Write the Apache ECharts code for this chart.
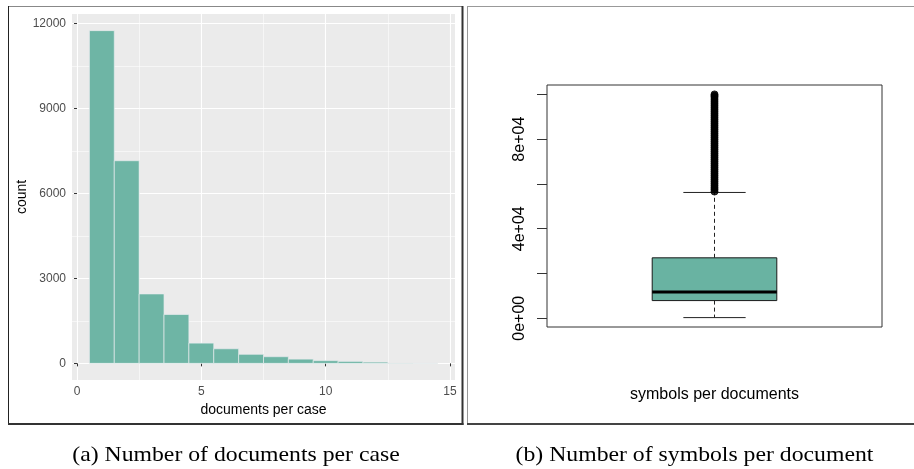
<!DOCTYPE html>
<html>
<head>
<meta charset="utf-8">
<script src="https://cdn.jsdelivr.net/npm/echarts@6/dist/echarts.min.js"></script>
<style>
  html, body { margin: 0; padding: 0; background: #fff; }
  #chart { width: 914px; height: 469px; }
</style>
</head>
<body>
<div id="chart"></div>
<script>
// ---------- Data: (a) histogram ----------
const binCenters = [1, 2, 3, 4, 5, 6, 7, 8, 9, 10, 11, 12, 13, 14];
const binCounts  = [11740, 7150, 2450, 1725, 715, 515, 320, 235, 150, 95, 70, 45, 12, 6];
const histXTicks = [0, 5, 10, 15];
const histXMinor = [2.5, 7.5, 12.5];
const histYTicks = [0, 3000, 6000, 9000, 12000];
const histYMinor = [1500, 4500, 7500, 10500];

// ---------- Data: (b) boxplot ----------
const boxCategory = ['symbols per documents'];
const boxStats = [300, 7900, 11700, 27000, 56200]; // min, Q1, median, Q3, upper whisker
const boxOutliers = [56600, 57500, 58300, 59200, 60100, 61000, 61900, 62800, 63700, 64600,
  65500, 66400, 67300, 68200, 69100, 70000, 70900, 71800, 72700, 73600, 74500, 75400,
  76300, 77200, 78100, 79000, 79900, 80800, 81700, 82600, 83500, 84400, 85300, 86200,
  87100, 88000, 88900, 89800, 90700, 91600, 92500, 93400, 94300, 95200, 96100, 97000,
  97900, 98800, 99400, 100000];
const boxYTicks = [0, 20000, 40000, 60000, 80000, 100000];
const boxYLabels = [0, 40000, 80000];

const FILL = '#69b3a2';
const chart = echarts.init(document.getElementById('chart'), null, { renderer: 'canvas' });

function sci(v) {
  if (v === 0) return '0e+00';
  const e = Math.floor(Math.log10(v));
  const m = Math.round(v / Math.pow(10, e));
  return m + 'e+' + String(e).padStart(2, '0');
}
function plain(v) { return String(v); }

const option = {
  backgroundColor: '#ffffff',
  animation: false,
  grid: [
    { left: 72, top: 14, width: 383, height: 366, show: true, backgroundColor: '#EBEBEB', borderWidth: 0 },
    { left: 547, top: 85, width: 335, height: 242, show: true, backgroundColor: 'transparent', borderColor: '#333', borderWidth: 1 }
  ],
  xAxis: [
    {
      type: 'value', gridIndex: 0, min: -0.2, max: 15.2,
      name: 'documents per case', nameLocation: 'middle', nameGap: 23,
      nameTextStyle: { fontFamily: 'Liberation Sans', fontSize: 14, color: '#000' },
      axisLine: { show: false },
      axisTick: { show: true, length: 3, lineStyle: { color: '#333', width: 1 }, customValues: histXTicks },
      axisLabel: { customValues: histXTicks, margin: 6, fontFamily: 'Liberation Sans', fontSize: 12, color: '#4D4D4D', formatter: plain },
      splitLine: { show: true, lineStyle: { color: '#ffffff', width: 1.1 } }
    },
    {
      type: 'value', gridIndex: 0, min: -0.2, max: 15.2,
      axisLine: { show: false },
      axisTick: { show: false, customValues: histXMinor },
      axisLabel: { show: false, customValues: histXMinor },
      splitLine: { show: true, lineStyle: { color: '#ffffff', width: 0.55 } }
    },
    {
      type: 'category', gridIndex: 1, data: boxCategory,
      name: boxCategory[0], nameLocation: 'middle', nameGap: 60,
      nameTextStyle: { fontFamily: 'Liberation Sans', fontSize: 16, color: '#000' },
      axisLine: { show: false }, axisTick: { show: false }, axisLabel: { show: false },
      splitLine: { show: false }
    }
  ],
  yAxis: [
    {
      type: 'value', gridIndex: 0, min: -587, max: 12327,
      name: 'count', nameLocation: 'middle', nameGap: 38,
      nameTextStyle: { fontFamily: 'Liberation Sans', fontSize: 14, color: '#000' },
      axisLine: { show: false },
      axisTick: { show: true, length: 3, lineStyle: { color: '#333', width: 1 }, customValues: histYTicks },
      axisLabel: { customValues: histYTicks, margin: 6, fontFamily: 'Liberation Sans', fontSize: 12, color: '#4D4D4D', formatter: plain },
      splitLine: { show: true, lineStyle: { color: '#ffffff', width: 1.1 } }
    },
    {
      type: 'value', gridIndex: 0, min: -587, max: 12327, position: 'left',
      axisLine: { show: false },
      axisTick: { show: false, customValues: histYMinor },
      axisLabel: { show: false, customValues: histYMinor },
      splitLine: { show: true, lineStyle: { color: '#ffffff', width: 0.55 } }
    },
    {
      type: 'value', gridIndex: 1, min: -3900, max: 104200,
      axisLine: { show: false },
      axisTick: { show: true, length: 10, lineStyle: { color: '#333', width: 1 }, customValues: boxYTicks },
      axisLabel: { customValues: boxYLabels, rotate: 90, margin: 19, fontFamily: 'Liberation Sans', fontSize: 16, color: '#000', formatter: sci },
      splitLine: { show: false }
    }
  ],
  series: [
    {
      type: 'custom', xAxisIndex: 0, yAxisIndex: 0,
      data: binCenters.map((c, i) => [c, binCounts[i]]),
      encode: { x: 0, y: 1 },
      renderItem: function (params, api) {
        const x = api.value(0), y = api.value(1);
        const p0 = api.coord([x - 0.5, y]);
        const p1 = api.coord([x + 0.5, 0]);
        return {
          type: 'rect',
          shape: { x: p0[0], y: p0[1], width: p1[0] - p0[0], height: p1[1] - p0[1] },
          style: { fill: FILL, stroke: '#e9ecef', lineWidth: 0.7, opacity: 0.97 }
        };
      },
      z: 3
    },
    {
      type: 'custom', xAxisIndex: 2, yAxisIndex: 2,
      data: [[0].concat(boxStats)],
      encode: { x: 0, y: [1, 2, 3, 4, 5] },
      renderItem: function (params, api) {
        const cx = api.coord([api.value(0), 0])[0];
        const bw = api.size([1, 0])[0];
        const hb = bw * 0.186, hc = hb / 2;
        const yMin = api.coord([0, api.value(1)])[1];
        const yQ1 = api.coord([0, api.value(2)])[1];
        const yMed = api.coord([0, api.value(3)])[1];
        const yQ3 = api.coord([0, api.value(4)])[1];
        const yMax = api.coord([0, api.value(5)])[1];
        const dash = { stroke: '#222', lineWidth: 1, lineDash: [4, 3] };
        const solid = { stroke: '#222', lineWidth: 1 };
        return {
          type: 'group',
          children: [
            { type: 'line', shape: { x1: cx, y1: yQ3, x2: cx, y2: yMax }, style: dash },
            { type: 'line', shape: { x1: cx, y1: yQ1, x2: cx, y2: yMin }, style: dash },
            { type: 'line', shape: { x1: cx - hc, y1: yMax, x2: cx + hc, y2: yMax }, style: solid },
            { type: 'line', shape: { x1: cx - hc, y1: yMin, x2: cx + hc, y2: yMin }, style: solid },
            { type: 'rect', shape: { x: cx - hb, y: yQ3, width: 2 * hb, height: yQ1 - yQ3 }, style: { fill: FILL, stroke: '#1a1a1a', lineWidth: 1 } },
            { type: 'line', shape: { x1: cx - hb, y1: yMed, x2: cx + hb, y2: yMed }, style: { stroke: '#000', lineWidth: 3 } }
          ]
        };
      },
      z: 3
    },
    {
      type: 'scatter', xAxisIndex: 2, yAxisIndex: 2,
      data: boxOutliers.map(v => [0, v]),
      symbol: 'circle', symbolSize: 7,
      itemStyle: { color: '#000', borderColor: '#000', borderWidth: 1 },
      z: 4
    }
  ],
  graphic: [
    // frame (a)
    { type: 'line', shape: { x1: 8, y1: 6.5, x2: 463, y2: 6.5 }, style: { stroke: '#888', lineWidth: 1 }, silent: true },
    { type: 'line', shape: { x1: 8.5, y1: 6, x2: 8.5, y2: 424 }, style: { stroke: '#222', lineWidth: 1 }, silent: true },
    { type: 'line', shape: { x1: 462.5, y1: 6, x2: 462.5, y2: 425 }, style: { stroke: '#333', lineWidth: 2 }, silent: true },
    { type: 'line', shape: { x1: 8, y1: 424, x2: 463.5, y2: 424 }, style: { stroke: '#333', lineWidth: 2 }, silent: true },
    // frame (b)
    { type: 'line', shape: { x1: 467, y1: 6.5, x2: 914, y2: 6.5 }, style: { stroke: '#999', lineWidth: 1 }, silent: true },
    { type: 'line', shape: { x1: 467.5, y1: 6, x2: 467.5, y2: 424 }, style: { stroke: '#999', lineWidth: 1 }, silent: true },
    { type: 'line', shape: { x1: 467, y1: 424, x2: 914, y2: 424 }, style: { stroke: '#444', lineWidth: 2 }, silent: true },
    // captions
    { type: 'text', x: 236, y: 455, scaleX: 1.13, style: { text: '(a) Number of documents per case', fontFamily: 'Liberation Serif', fontSize: 21, fill: '#000', align: 'center', verticalAlign: 'middle' } },
    { type: 'text', x: 694.5, y: 455, scaleX: 1.13, style: { text: '(b) Number of symbols per document', fontFamily: 'Liberation Serif', fontSize: 21, fill: '#000', align: 'center', verticalAlign: 'middle' } }
  ]
};
chart.setOption(option);
</script>
</body>
</html>
